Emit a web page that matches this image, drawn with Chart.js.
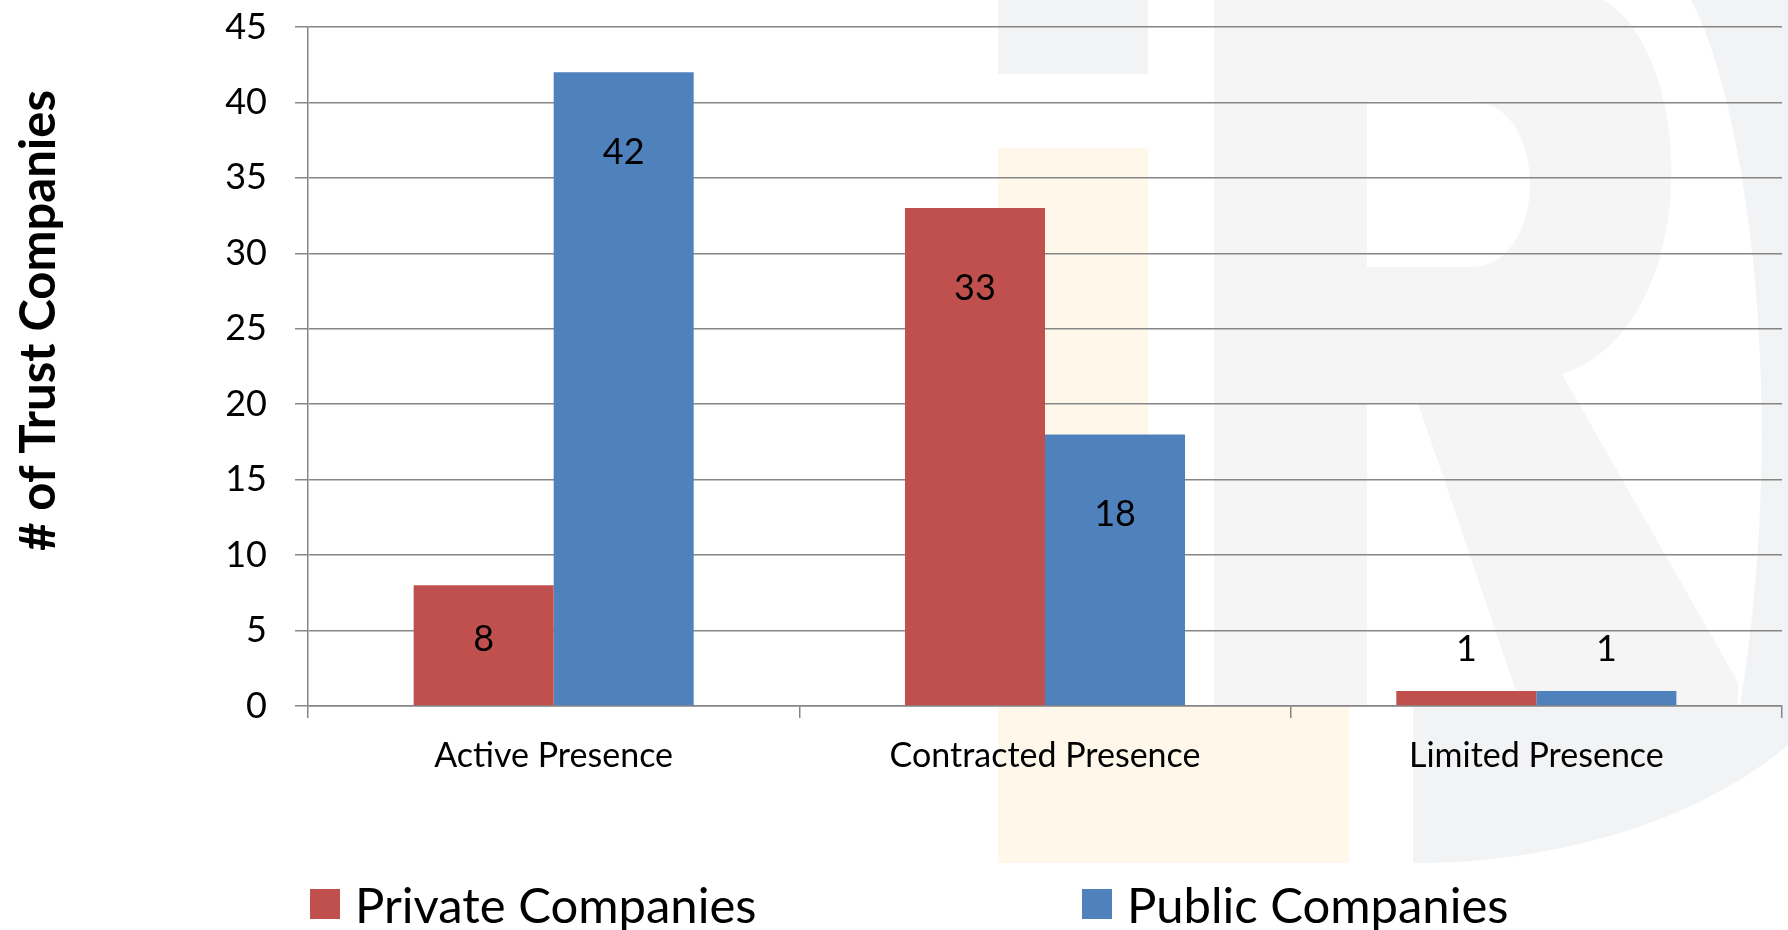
<!DOCTYPE html>
<html>
<head>
<meta charset="utf-8">
<script src="https://cdn.jsdelivr.net/npm/chart.js@4.4.1/dist/chart.umd.min.js"></script>
<style>
  html, body { margin: 0; padding: 0; background: #fff; }
  #wrap { position: relative; width: 1788px; height: 930px; overflow: hidden; font-family: Lato, "Open Sans", sans-serif; }
  #wm { position: absolute; left: 0; top: 0; }
  #chart { position: absolute; left: 0; top: 0; }
  #legend { position: absolute; left: 310px; top: 876px; height: 56px; display: flex; align-items: center; }
  .item { display: flex; align-items: center; }
  .item:first-child { width: 772px; }
  .box { width: 30px; height: 30px; margin-right: 15px; }
  .txt { font-size: 49px; color: #000; line-height: 56px; }
</style>
</head>
<body>
<div id="wrap">
  <svg id="wm" width="1788" height="930">
    <rect x="998" y="0" width="150" height="74" fill="#f2f3f5"/>
    <rect x="998" y="148" width="150" height="715" fill="#fff7ea"/>
    <rect x="998" y="706" width="351" height="157" fill="#fff7ea"/>
    <path d="M1214,0 L1604,0 C1700,60 1700,330 1562,374 L1738,682 L1738,706 L1521,706 L1418,403 L1367,403 L1367,706 L1214,706 Z" fill="#f5f5f5"/>
    <path d="M1367,101 H1470 C1550,101 1550,267 1470,267 H1367 Z" fill="#ffffff"/>
    <path d="M1691,0 C1745,100 1790,400 1740,706 H1788 V0 Z" fill="#f2f3f5"/>
    <path d="M1413,706 H1788 V745 C1700,820 1560,863 1413,863 Z" fill="#f2f3f5"/>
  </svg>
  <canvas id="chart" width="1788" height="930"></canvas>
  <div id="legend"></div>
</div>
<script>
const categories = ["Active Presence", "Contracted Presence", "Limited Presence"];
const seriesNames = ["Private Companies", "Public Companies"];
const privateValues = [8, 33, 1];
const publicValues = [42, 18, 1];
const seriesColors = ["#C0504D", "#4F81BD"];
const yMin = 0, yMax = 45, yStep = 5;
const yTitle = "# of Trust Companies";

const gridColor = "#868686";

// etiquetas de valor sobre/dentro de las barras
const valueLabels = {
  id: "valueLabels",
  afterDatasetsDraw(chart) {
    const ctx = chart.ctx;
    ctx.save();
    ctx.font = "36px Lato";
    ctx.fillStyle = "#000";
    ctx.textAlign = "center";
    ctx.textBaseline = "middle";
    chart.data.datasets.forEach((ds, i) => {
      chart.getDatasetMeta(i).data.forEach((bar, j) => {
        const h = bar.base - bar.y;
        let y;
        if (h > 60) y = bar.y + Math.min(80, h * 0.45);
        else y = bar.y - 42;
        ctx.fillText(ds.data[j], bar.x, y);
      });
    });
    ctx.restore();
  }
};

// título del eje Y (un poco por encima del centro, como en el original)
const axisTitle = {
  id: "axisTitle",
  afterDraw(chart) {
    const ctx = chart.ctx;
    const area = chart.chartArea;
    ctx.save();
    ctx.translate(39, (area.top + area.bottom) / 2 - 46);
    ctx.rotate(-Math.PI / 2);
    ctx.font = "bold 49px Lato";
    ctx.fillStyle = "#000";
    ctx.textAlign = "center";
    ctx.textBaseline = "middle";
    ctx.fillText(yTitle, 0, 0);
    ctx.restore();
  }
};

const chart = new Chart(document.getElementById("chart"), {
  type: "bar",
  data: {
    labels: categories,
    datasets: [
      { label: seriesNames[0], data: privateValues, backgroundColor: seriesColors[0] },
      { label: seriesNames[1], data: publicValues, backgroundColor: seriesColors[1] }
    ]
  },
  options: {
    responsive: false,
    animation: false,
    categoryPercentage: 0.57,
    barPercentage: 1.0,
    layout: { padding: { left: 9, top: 27, right: 6, bottom: 0 } },
    plugins: {
      legend: { display: false },
      tooltip: { enabled: false }
    },
    scales: {
      x: {
        grid: { offset: true, drawOnChartArea: false, color: gridColor, lineWidth: 1.5, tickLength: 12 },
        border: { color: gridColor, width: 1.5 },
        ticks: { color: "#000", font: { family: "Lato", size: 34 }, padding: 18 },
        afterFit(scale) { scale.height = 224; }
      },
      y: {
        min: yMin,
        max: yMax,
        ticks: { stepSize: yStep, color: "#000", font: { family: "Lato", size: 36 }, padding: 28 },
        grid: { color: gridColor, lineWidth: 1.5, tickLength: 13 },
        border: { color: gridColor, width: 1.5 },
        afterFit(scale) {
          scale.width = 299;
          scale.paddingTop = 0;
          scale.paddingBottom = 0;
        }
      }
    }
  },
  plugins: [valueLabels, axisTitle]
});

// leyenda en HTML
const legend = document.getElementById("legend");
chart.data.datasets.forEach(ds => {
  const item = document.createElement("div");
  item.className = "item";
  const box = document.createElement("div");
  box.className = "box";
  box.style.background = ds.backgroundColor;
  const txt = document.createElement("span");
  txt.className = "txt";
  txt.textContent = ds.label;
  item.appendChild(box);
  item.appendChild(txt);
  legend.appendChild(item);
});
</script>
</body>
</html>
